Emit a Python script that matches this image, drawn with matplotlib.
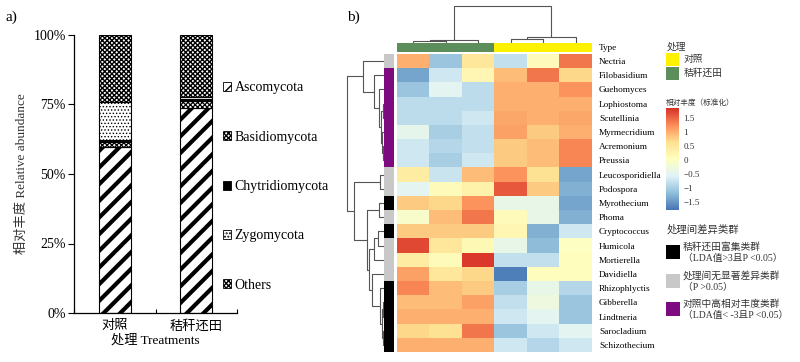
import numpy as np
import matplotlib
matplotlib.use("Agg")
import matplotlib.pyplot as plt
from matplotlib.colors import LinearSegmentedColormap, ListedColormap
from matplotlib.patches import Patch, Rectangle

plt.rcParams['font.family'] = ['Liberation Serif', 'Noto Sans CJK SC']
plt.rcParams['hatch.color'] = 'black'
plt.rcParams['axes.unicode_minus'] = True

# ---------------- panel a data ----------------
treatments = ['对照', '秸秆还田']
phyla = ['Ascomycota', 'Basidiomycota', 'Chytridiomycota', 'Zygomycota', 'Others']
ascomycota = [59.8, 73.6]
basidiomycota = [1.6, 2.6]
chytridiomycota = [0.8, 0.8]
zygomycota = [13.8, 0.8]
others = [24.0, 22.2]

# ---------------- panel b data ----------------
taxa = ['Nectria', 'Filobasidium', 'Guehomyces', 'Lophiostoma', 'Scutellinia',
        'Myrmecridium', 'Acremonium', 'Preussia', 'Leucosporidiella', 'Podospora',
        'Myrothecium', 'Phoma', 'Cryptococcus', 'Humicola', 'Mortierella',
        'Davidiella', 'Rhizophlyctis', 'Gibberella', 'Lindtneria', 'Sarocladium',
        'Schizothecium']
sample_type = ['秸秆还田', '秸秆还田', '秸秆还田', '对照', '对照', '对照']
zscore = [
    [1.0, -1.1, 0.5, -0.8, 0.1, 1.4],
    [-1.4, -0.7, 0.2, 0.9, 1.4, 0.7],
    [-1.1, -0.5, -0.85, 1.0, 1.0, 1.2],
    [-0.85, -0.85, -0.85, 1.0, 1.0, 1.0],
    [-0.85, -0.85, -0.7, 1.05, 1.0, 1.05],
    [-0.45, -1.0, -0.8, 1.1, 0.8, 1.0],
    [-0.7, -0.9, -0.8, 0.8, 0.9, 1.3],
    [-0.7, -1.0, -0.7, 0.8, 0.9, 1.3],
    [0.4, -0.75, 0.9, 1.2, 0.6, -1.4],
    [-0.5, 0.1, 0.3, 1.6, 0.8, -1.3],
    [0.8, 0.7, 1.2, -0.4, -0.4, -1.4],
    [-0.1, 0.9, 1.4, 0.1, -0.4, -1.3],
    [0.8, 0.8, 0.8, 0.2, -1.3, -0.7],
    [1.7, 0.5, 0.15, -0.4, -1.2, 0.0],
    [0.4, 0.1, 1.8, -0.8, -0.8, 0.05],
    [1.1, 0.5, 0.7, -1.7, 0.05, 0.05],
    [1.3, 0.9, 0.8, -1.0, -0.4, -0.9],
    [0.9, 0.9, 1.1, -0.8, -0.3, -1.1],
    [1.0, 1.0, 1.0, -0.7, -0.5, -1.1],
    [0.7, 0.6, 1.4, -1.1, -0.7, -0.5],
    [1.0, 1.0, 1.0, -0.7, -0.9, -0.7],
]
# 0 = straw enriched, 1 = not significant, 2 = control enriched
taxa_group = [1, 2, 2, 2, 2, 2, 2, 2, 1, 1, 0, 1, 0, 1, 1, 1, 0, 0, 0, 0, 0]
# hierarchical clustering merges: (child a, child b, height)
row_links = [(3, 4, 1.5), (6, 7, 1.5), (5, 22, 2.5), (21, 23, 3.5), (2, 24, 5),
             (1, 25, 10), (0, 26, 21), (8, 9, 4), (10, 11, 5), (12, 13, 6),
             (30, 14, 10), (17, 18, 1.5), (19, 20, 1.5), (32, 33, 2.5),
             (16, 34, 4), (15, 35, 12), (31, 36, 15), (29, 37, 17),
             (28, 38, 30), (27, 39, 37)]
col_links = [(0, 1, 2), (6, 2, 3), (3, 4, 4), (8, 5, 6), (7, 9, 37)]

W, H = 800, 362
fig = plt.figure(figsize=(8, 3.62), dpi=100)


def box(x0, y0, x1, y1):
    # pixel box (top-left origin) -> figure rect
    return [x0 / W, 1 - y1 / H, (x1 - x0) / W, (y1 - y0) / H]


# ================= panel a =================
ax = fig.add_axes(box(74, 35, 237, 313))
xpos = np.arange(len(treatments))
styles = {
    'Ascomycota': dict(facecolor='white', hatch='//', hlw=3.0),
    'Basidiomycota': dict(facecolor='white', hatch='xxxxxxx', hlw=0.9),
    'Chytridiomycota': dict(facecolor='black', hatch=None, hlw=0.8),
    'Zygomycota': dict(facecolor='white', hatch='.....', hlw=0.6),
    'Others': dict(facecolor='white', hatch='xxxxxxx', hlw=1.0),
}
series = [ascomycota, basidiomycota, chytridiomycota, zygomycota, others]
bottom = np.zeros(len(treatments))
handles = []
for name, vals in zip(phyla, series):
    st = styles[name]
    with plt.rc_context({'hatch.linewidth': st['hlw']}):
        bars = ax.bar(xpos, vals, 0.39, bottom=bottom, facecolor=st['facecolor'],
                      edgecolor='black', linewidth=0.8, hatch=st['hatch'])
        for b in bars:
            if hasattr(b, 'set_hatch_linewidth'):
                b.set_hatch_linewidth(st['hlw'])
        h = Patch(facecolor=st['facecolor'], edgecolor='black', linewidth=0.6,
                  hatch=st['hatch'])
        if hasattr(h, 'set_hatch_linewidth'):
            h.set_hatch_linewidth(min(st['hlw'], 1.5))
    handles.append(h)
    bottom += np.array(vals)

ax.set_xlim(-0.5, 1.5)
ax.set_ylim(0, 100)
ax.set_yticks([0, 25, 50, 75, 100])
ax.set_yticklabels([f'{v}%' for v in [0, 25, 50, 75, 100]], fontsize=10)
ax.set_xticks([-0.5, 0.5, 1.5])
ax.set_xticklabels([])
ax.set_xticks(xpos, minor=True)
ax.set_xticklabels(treatments, minor=True, fontsize=9.5)
ax.tick_params(axis='x', which='major', direction='in', length=3, width=0.8)
ax.tick_params(axis='x', which='minor', length=0, pad=5)
ax.tick_params(axis='y', direction='out', length=4, width=0.8, pad=2)
for s in ['top', 'right']:
    ax.spines[s].set_visible(False)
for s in ['left', 'bottom']:
    ax.spines[s].set_linewidth(0.9)
ax.set_ylabel('相对丰度 Relative abundance', fontsize=9.5, labelpad=4, color='#333333')
ax.set_xlabel('处理 Treatments', fontsize=9.5, labelpad=1)

fig.legend(handles, phyla, loc='center left',
           bbox_to_anchor=(223 / W, 1 - 186.5 / H), frameon=False, fontsize=10,
           handlelength=0.6, handleheight=0.6, handletextpad=0.25,
           labelspacing=2.62, borderpad=0, borderaxespad=0)

fig.text(6 / W, 1 - 17 / H, 'a)', fontsize=11, va='center')
fig.text(347 / W, 1 - 17 / H, 'b)', fontsize=11, va='center')

# ================= panel b =================
cmap = LinearSegmentedColormap.from_list(
    'heat', ['#4575B4', '#91BFDB', '#E0F3F8', '#FFFFBF', '#FEE090', '#FC8D59', '#D73027'])
vmin, vmax = -1.8, 1.86
Z = np.array(zscore)
nr, nc = Z.shape

axh = fig.add_axes(box(397, 54, 592, 352))
im = axh.imshow(Z, cmap=cmap, vmin=vmin, vmax=vmax, aspect='auto',
                interpolation='nearest', extent=(0, nc, nr, 0))
axh.set_xticks([])
axh.yaxis.tick_right()
axh.set_yticks(np.arange(nr) + 0.5)
axh.set_yticklabels(taxa, fontsize=6.7)
axh.tick_params(axis='y', length=0, pad=5)
for s in axh.spines.values():
    s.set_visible(False)

# column annotation bar
type_names = ['对照', '秸秆还田']
type_colors = ['#FFF200', '#5B8E5B']
axt = fig.add_axes(box(397, 43, 592, 52))
codes = np.array([[type_names.index(t) for t in sample_type]])
axt.imshow(codes, cmap=ListedColormap(type_colors), vmin=0, vmax=1, aspect='auto',
           interpolation='nearest', extent=(0, nc, 1, 0))
axt.set_xticks([])
axt.yaxis.tick_right()
axt.set_yticks([0.5])
axt.set_yticklabels(['Type'], fontsize=6.7)
axt.tick_params(axis='y', length=0, pad=5)
for s in axt.spines.values():
    s.set_visible(False)

# row annotation strip
group_colors = ['#000000', '#C8C8C8', '#7E0A80']
axr = fig.add_axes(box(384, 54, 394, 352))
axr.imshow(np.array(taxa_group)[:, None], cmap=ListedColormap(group_colors), vmin=0,
           vmax=2, aspect='auto', interpolation='nearest', extent=(0, 1, nr, 0))
axr.axis('off')


def dendro(links, n):
    pos = {i: i + 0.5 for i in range(n)}
    hgt = {i: 0.0 for i in range(n)}
    segs = []
    for k, (a, b, h) in enumerate(links):
        segs.append(([pos[a], pos[a], pos[b], pos[b]], [hgt[a], h, h, hgt[b]]))
        pos[n + k] = (pos[a] + pos[b]) / 2
        hgt[n + k] = h
    return segs


# row dendrogram
axd = fig.add_axes(box(340, 54, 384, 352))
for p, h in dendro(row_links, nr):
    axd.plot(h, p, color='#555555', lw=0.8, solid_capstyle='butt')
axd.set_xlim(44, 0)
axd.set_ylim(nr, 0)
axd.axis('off')

# column dendrogram
axc = fig.add_axes(box(397, 4, 592, 43))
for p, h in dendro(col_links, nc):
    axc.plot(p, h, color='#555555', lw=0.8, solid_capstyle='butt')
axc.set_xlim(0, nc)
axc.set_ylim(0, 39)
axc.axis('off')

# ---- legends on the right ----
tc = '#333333'
fig.text(667 / W, 1 - 47 / H, '处理', fontsize=7, va='center', color=tc)
for i, (nm, col) in enumerate(zip(type_names, type_colors)):
    y0 = 53 + 14 * i
    fig.add_artist(Rectangle((666 / W, 1 - (y0 + 13) / H), 13 / W, 13 / H,
                             transform=fig.transFigure, facecolor=col, edgecolor='none'))
    fig.text(684 / W, 1 - (y0 + 6.5) / H, nm, fontsize=7, va='center', color=tc)

fig.text(666 / W, 1 - 103 / H, '相对丰度（标准化）', fontsize=5.5, va='center', color=tc)
cax = fig.add_axes(box(666, 108, 679, 210))
cb = fig.colorbar(im, cax=cax, ticks=[1.5, 1, 0.5, 0, -0.5, -1, -1.5])
cb.ax.set_yticklabels(['1.5', '1', '0.5', '0', '\u22120.5', '\u22121', '\u22121.5'],
                      fontsize=6.5, color=tc)
cb.ax.tick_params(length=0, pad=3)
cb.outline.set_visible(False)

fig.text(667 / W, 1 - 230 / H, '处理间差异类群', fontsize=7.5, va='center', color=tc)
group_text = [
    ('秸秆还田富集类群', '（LDA值>3且P <0.05）'),
    ('处理间无显著差异类群', '（P >0.05）'),
    ('对照中高相对丰度类群', '（LDA值< -3且P <0.05）'),
]
for i, (l1, l2) in enumerate(group_text):
    y0 = 245 + 28.5 * i
    fig.add_artist(Rectangle((666 / W, 1 - (y0 + 14) / H), 14 / W, 14 / H,
                             transform=fig.transFigure, facecolor=group_colors[i],
                             edgecolor='none'))
    fig.text(683 / W, 1 - (y0 + 2) / H, l1, fontsize=7, va='center', color=tc)
    fig.text(683 / W, 1 - (y0 + 13.5) / H, l2, fontsize=7, va='center', color=tc)

fig.savefig('out.png', dpi=100)
